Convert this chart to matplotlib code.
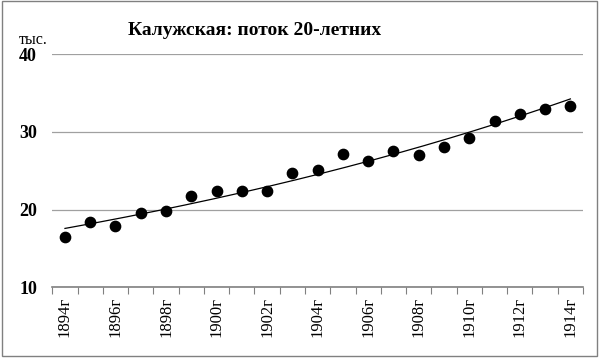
import matplotlib.pyplot as plt
from matplotlib.patches import Rectangle
import numpy as np

years = list(range(1894, 1915))
labels = [f"{y}г" for y in years]
values = [16.4, 18.4, 17.9, 19.6, 19.8, 21.7, 22.4, 22.4, 22.4, 24.7, 25.1,
          27.1, 26.2, 27.5, 27.0, 28.05, 29.2, 31.4, 32.3, 33.0, 33.3]
yticks = [10, 20, 30, 40]

plt.rcParams['font.family'] = ['Liberation Serif', 'DejaVu Serif']

fig = plt.figure(figsize=(6, 3.58), dpi=100)
ax = fig.add_axes([0.0872, 0.1983, 0.8845, 0.6495])

x = np.arange(len(years))
ax.scatter(x, values, s=55, color='black', zorder=3)

# exponential trendline, as Excel computes it (linear fit of ln y)
k, b = np.polyfit(x, np.log(values), 1)
xs = np.linspace(0, len(years) - 1, 200)
ax.plot(xs, np.exp(b + k * xs), color='black', lw=0.9, zorder=2)

ax.set_xlim(-0.5, len(years) - 0.5)
ax.set_ylim(10, 40)
ax.set_yticks(yticks)
ax.set_yticklabels([str(v) for v in yticks], fontsize=13, fontweight='bold')
ax.yaxis.grid(True, color='#a0a0a0', lw=0.9)
ax.set_axisbelow(True)
ax.tick_params(axis='y', length=0, pad=11)

# category ticks at boundaries, labels every second year
ax.set_xticks(np.arange(-0.5, len(years), 1.0))
ax.set_xticklabels([])
ax.tick_params(axis='x', which='major', length=5, color='#808080', direction='out')
ax.set_xticks(x[::2], minor=True)
ax.set_xticklabels(labels[::2], minor=True, rotation=90, fontsize=12)
ax.tick_params(axis='x', which='minor', length=0, pad=7)

for s in ['top', 'right', 'left']:
    ax.spines[s].set_visible(False)
ax.spines['bottom'].set_color('#808080')
ax.spines['bottom'].set_linewidth(1.2)

fig.text(0.425, 0.915, "Калужская: поток 20-летних", ha='center', va='center',
         fontsize=14, fontweight='bold')
fig.text(0.031, 0.888, "тыс.", ha='left', va='center', fontsize=11.5)

fig.patches.append(Rectangle((0.003, 0.006), 0.992, 0.99, transform=fig.transFigure,
                             fill=False, ec='#808080', lw=1))

fig.savefig('out.png', dpi=100)
